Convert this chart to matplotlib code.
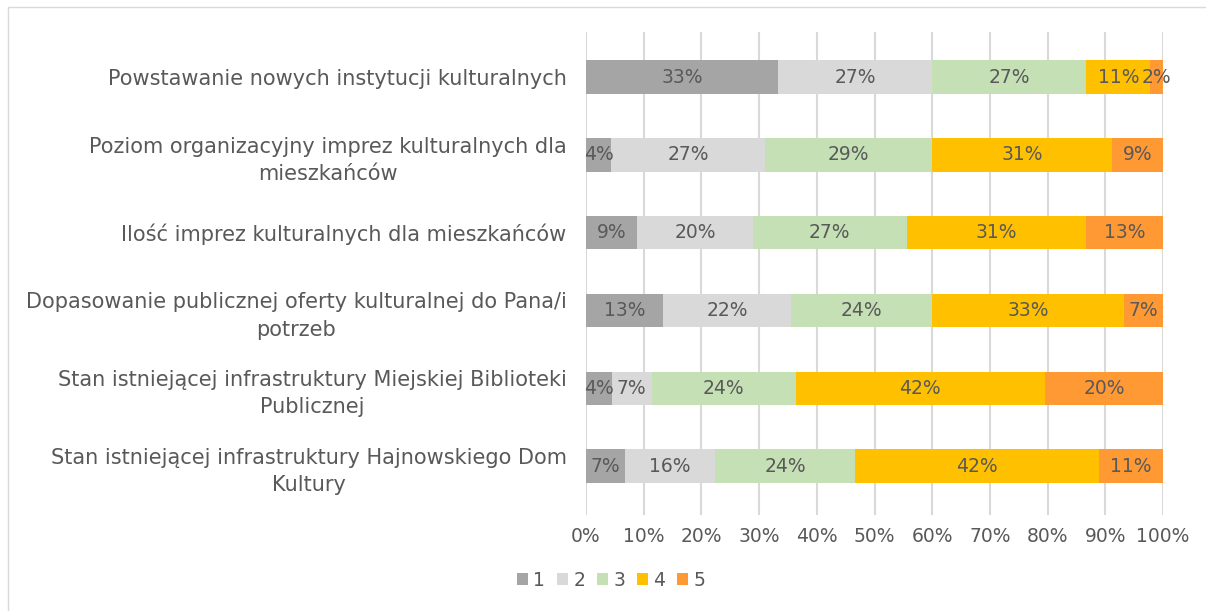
import matplotlib.pyplot as plt
from matplotlib.patches import Rectangle
import numpy as np

plt.rcParams['font.family'] = ['DejaVu Sans']

categories = [
    "Powstawanie nowych instytucji kulturalnych",
    "Poziom organizacyjny imprez kulturalnych dla\nmieszkańców",
    "Ilość imprez kulturalnych dla mieszkańców",
    "Dopasowanie publicznej oferty kulturalnej do Pana/i\npotrzeb",
    "Stan istniejącej infrastruktury Miejskiej Biblioteki\nPublicznej",
    "Stan istniejącej infrastruktury Hajnowskiego Dom\nKultury",
]
series_names = ["1", "2", "3", "4", "5"]

# percent of respondents per answer (rows follow categories)
s1 = [33.3, 4.4, 8.9, 13.3, 4.4, 6.7]
s2 = [26.7, 26.7, 20.0, 22.2, 6.7, 15.6]
s3 = [26.7, 28.9, 26.7, 24.4, 24.4, 24.4]
s4 = [11.1, 31.1, 31.1, 33.3, 42.2, 42.2]
s5 = [2.2, 8.9, 13.3, 6.7, 20.0, 11.1]

colors = ["#A5A5A5", "#D9D9D9", "#C5E0B4", "#FFC000", "#FF9933"]
txt = "#595959"

data = np.array([s1, s2, s3, s4, s5])
share = data / data.sum(axis=0) * 100  # 100% stacked

fig = plt.figure(figsize=(12.06, 6.11), dpi=100)
fig.patches.append(Rectangle((8 / 1206, -0.01), 1.1, 1 - 7 / 611 + 0.01,
                             transform=fig.transFigure, fill=False,
                             edgecolor="#D9D9D9", linewidth=1))
ax = fig.add_axes([586 / 1206, 1 - 515 / 611, 577 / 1206, 483 / 611])

y = np.arange(len(categories))
left = np.zeros(len(categories))
for i, name in enumerate(series_names):
    ax.barh(y, share[i], left=left, height=0.43, color=colors[i], label=name, zorder=3)
    for j in range(len(categories)):
        ax.text(left[j] + share[i][j] / 2, y[j], f"{data[i][j]:.0f}%",
                ha="center", va="center", fontsize=13.5, color=txt, zorder=4)
    left += share[i]

ax.set_xlim(0, 100)
ax.set_ylim(5.63, -0.58)
ax.set_xticks(np.arange(0, 101, 10))
ax.set_xticklabels([f"{v}%" for v in range(0, 101, 10)], fontsize=13.5, color=txt)
ax.set_yticks(y)
ax.set_yticklabels(categories, fontsize=15, color=txt, multialignment="center",
                   linespacing=1.45)
ax.tick_params(axis="both", length=0)
ax.tick_params(axis="x", pad=9)
ax.tick_params(axis="y", pad=14)
ax.grid(axis="x", color="#D9D9D9", linewidth=1.5, zorder=0)
for sp in ax.spines.values():
    sp.set_visible(False)

ax.legend(loc="center", bbox_to_anchor=(611 / 1206, 1 - 580 / 611),
          bbox_transform=fig.transFigure, ncol=5, frameon=False,
          fontsize=13.5, labelcolor=txt, handlelength=0.6, handleheight=0.6,
          handletextpad=0.3, columnspacing=0.6)

plt.savefig("out.png", dpi=100)
